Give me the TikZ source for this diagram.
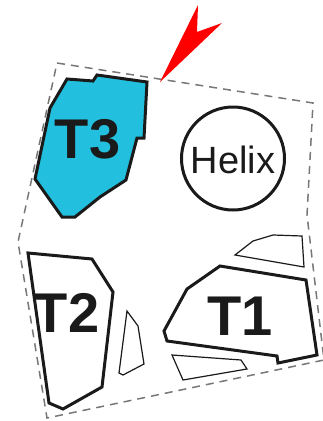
\documentclass[tikz,border=0pt]{standalone}
\usepackage{fontspec}
\setmainfont{Liberation Sans}
\definecolor{tcyan}{HTML}{22C0DE}
\definecolor{ink}{HTML}{1A1A1A}
\definecolor{dashgray}{HTML}{777777}
\tikzset{
  bigpoly/.style={draw=ink, line width=3pt, line join=miter},
  smallpoly/.style={draw=ink, line width=1.2pt, line join=miter},
  outline/.style={draw=dashgray, line width=1.5pt, dash pattern=on 8pt off 6pt},
  biglabel/.style={anchor=base, inner sep=0pt, text=ink, font=\fontsize{56}{56}\selectfont\bfseries},
  helixlabel/.style={anchor=base, inner sep=0pt, text=ink, font=\fontsize{38}{38}\selectfont}
}
\begin{document}
\begin{tikzpicture}[x=1pt,y=-1pt]
\useasboundingbox (0,0) rectangle (323,421);
% dashed outline
\draw[outline] (57,63) -- (313,103) -- (307,215) -- (324,360) -- (47,418) -- (18,242) -- cycle;
% red arrow
\fill[red] (160,82) -- (198,5) -- (197,32) -- (222,23) -- cycle;
% T3
\filldraw[bigpoly, fill=tcyan] (67,79) -- (93,81) -- (97,75) -- (147,82) -- (144,138) -- (137,138) -- (126,180) -- (100,197) -- (75,217) -- (62,217) -- (35,179) -- (50,108) -- cycle;
\node[biglabel] (t3) at (87.5,158) {T3};
% Helix
\draw[draw=ink, line width=3pt] (233,158.5) circle (51.5);
\node[helixlabel] (helix) at (233,173) {Helix};
% T2
\draw[bigpoly] (28,253) -- (92,259) -- (113,292) -- (102,387) -- (63,409) -- (49,403) -- cycle;
\node[biglabel] (t2) at (66.5,332) {T2};
% T1
\draw[bigpoly] (220,266) -- (306,280) -- (317,355) -- (278,363) -- (277,356) -- (167,341) -- (164,331) -- (187,289) -- cycle;
\node[biglabel] (t1) at (240,335) {T1};
% small pieces
\draw[smallpoly] (235,255) -- (253,241) -- (273,235) -- (302,236) -- (304,267) -- cycle;
\draw[smallpoly] (172,355) -- (241,360) -- (247,369) -- (183,380) -- cycle;
\draw[smallpoly] (127,311) -- (138,326) -- (144,364) -- (123,375) -- (119,373) -- cycle;
\end{tikzpicture}
\end{document}
